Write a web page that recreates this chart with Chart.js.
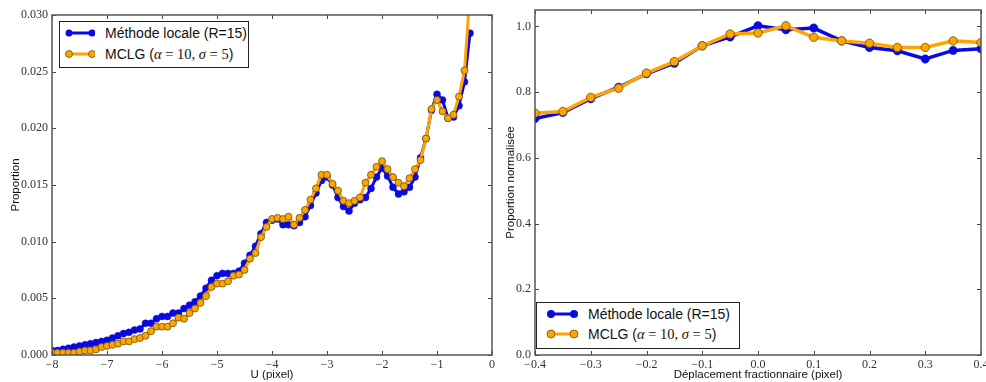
<!DOCTYPE html>
<html>
<head>
<meta charset="utf-8">
<script src="https://cdn.jsdelivr.net/npm/chart.js@4/dist/chart.umd.min.js"></script>
<style>
  body { margin: 0; background: #fff; width: 986px; height: 382px; position: relative; overflow: hidden;
         font-family: "Liberation Sans", Arial, sans-serif; }
  canvas { position: absolute; top: 0; }
  #leftChart { left: 0; }
  #rightChart { left: 500px; }
  .legend { position: absolute; border: 1.5px solid #222; background: #fff; box-sizing: border-box; }
  .legend .row { position: absolute; left: 0; height: 20px; display: flex; align-items: center;
                 font-size: 14px; color: #111; white-space: nowrap; }
  .legend svg { display: block; }
  .math { font-family: "Liberation Serif", "DejaVu Serif", serif; font-size: 14.5px; }
  .math i { font-style: italic; }
</style>
</head>
<body>
<canvas id="leftChart" width="500" height="382"></canvas>
<canvas id="rightChart" width="486" height="382"></canvas>

<div class="legend" style="left:59px; top:21px; width:190px; height:47px;">
  <div class="row" style="top:1px; left:5px;">
    <svg width="30" height="12"><line x1="4" y1="6" x2="27" y2="6" stroke="#0a0ae0" stroke-width="3"/><circle cx="4" cy="6" r="3.5" fill="#0a0ae0"/><circle cx="27" cy="6" r="3.5" fill="#0a0ae0"/></svg>
    <span style="margin-left:10px">Méthode locale (R=15)</span>
  </div>
  <div class="row" style="top:22px; left:5px;">
    <svg width="30" height="12"><line x1="4" y1="6" x2="27" y2="6" stroke="#ffa500" stroke-width="3"/><circle cx="4" cy="6" r="3.5" fill="#ffa500" stroke="#6b5010" stroke-width="0.8"/><circle cx="27" cy="6" r="3.5" fill="#ffa500" stroke="#6b5010" stroke-width="0.8"/></svg>
    <span style="margin-left:10px">MCLG (<span class="math"><i>α</i> = 10, <i>σ</i> = 5</span>)</span>
  </div>
</div>

<div class="legend" style="left:536px; top:302px; width:204px; height:47px;">
  <div class="row" style="top:1px; left:9px;">
    <svg width="34" height="12"><line x1="5" y1="6" x2="28" y2="6" stroke="#0a0ae0" stroke-width="3"/><circle cx="5" cy="6" r="4" fill="#0a0ae0"/><circle cx="28" cy="6" r="4" fill="#0a0ae0"/></svg>
    <span style="margin-left:8px">Méthode locale (R=15)</span>
  </div>
  <div class="row" style="top:21px; left:9px;">
    <svg width="34" height="12"><line x1="5" y1="6" x2="28" y2="6" stroke="#ffa500" stroke-width="3"/><circle cx="5" cy="6" r="4" fill="#ffa500" stroke="#6b5010" stroke-width="0.8"/><circle cx="28" cy="6" r="4" fill="#ffa500" stroke="#6b5010" stroke-width="0.8"/></svg>
    <span style="margin-left:8px">MCLG (<span class="math"><i>α</i> = 10, <i>σ</i> = 5</span>)</span>
  </div>
</div>

<script>
// Left panel: proportion vs U (pixel)
const uValues = [
  -8.0, -7.9, -7.8, -7.7, -7.6, -7.5, -7.4, -7.3, -7.2, -7.1,
  -7.0, -6.9, -6.8, -6.7, -6.6, -6.5, -6.4, -6.3, -6.2, -6.1,
  -6.0, -5.9, -5.8, -5.7, -5.6, -5.5, -5.4, -5.3, -5.2, -5.1,
  -5.0, -4.9, -4.8, -4.7, -4.6, -4.5, -4.4, -4.3, -4.2, -4.1,
  -4.0, -3.9, -3.8, -3.7, -3.6, -3.5, -3.4, -3.3, -3.2, -3.1,
  -3.0, -2.9, -2.8, -2.7, -2.6, -2.5, -2.4, -2.3, -2.2, -2.1,
  -2.0, -1.9, -1.8, -1.7, -1.6, -1.5, -1.4, -1.3, -1.2, -1.1,
  -1.0, -0.9, -0.8, -0.7, -0.6, -0.5, -0.4
];
const localProportion = [
  0.0004, 0.0004, 0.0005, 0.0006, 0.0007, 0.0008, 0.0009, 0.0010, 0.0011, 0.0012,
  0.0013, 0.0015, 0.0017, 0.0019, 0.0020, 0.0022, 0.0023, 0.0028, 0.0028, 0.0032,
  0.0034, 0.0034, 0.0037, 0.0037, 0.0041, 0.0044, 0.0047, 0.0052, 0.0059, 0.0066,
  0.0070, 0.0072, 0.0072, 0.0072, 0.0074, 0.0081, 0.0088, 0.0096, 0.0107, 0.0117,
  0.0119, 0.0120, 0.0115, 0.0115, 0.0114, 0.0117, 0.0122, 0.0132, 0.0143, 0.0154,
  0.0157, 0.0150, 0.0139, 0.0131, 0.0127, 0.0134, 0.0137, 0.0139, 0.0147, 0.0157,
  0.0165, 0.0158, 0.0148, 0.0142, 0.0144, 0.0148, 0.0157, 0.0174, 0.0191, 0.0216,
  0.0230, 0.0225, 0.0209, 0.0210, 0.0220, 0.0241, 0.0284
];
const mclgProportion = [
  0.0002, 0.0002, 0.0002, 0.0002, 0.0002, 0.0003, 0.0004, 0.0004, 0.0005, 0.0007,
  0.0008, 0.0009, 0.0010, 0.0012, 0.0012, 0.0014, 0.0015, 0.0017, 0.0021, 0.0025,
  0.0025, 0.0025, 0.0028, 0.0033, 0.0032, 0.0037, 0.0041, 0.0046, 0.0052, 0.0060,
  0.0063, 0.0063, 0.0065, 0.0070, 0.0071, 0.0075, 0.0085, 0.0090, 0.0104, 0.0113,
  0.0120, 0.0121, 0.0120, 0.0122, 0.0115, 0.0121, 0.0128, 0.0137, 0.0147, 0.0159,
  0.0159, 0.0151, 0.0145, 0.0136, 0.0134, 0.0136, 0.0139, 0.0152, 0.0159, 0.0166,
  0.0171, 0.0164, 0.0157, 0.0152, 0.0149, 0.0156, 0.0164, 0.0172, 0.0191, 0.0217,
  0.0225, 0.0215, 0.0209, 0.0212, 0.0228, 0.0251, 0.0320
];

// Right panel: normalised proportion vs fractional shift
const shiftValues = [-0.4, -0.35, -0.3, -0.25, -0.2, -0.15, -0.1, -0.05, 0.0, 0.05, 0.1, 0.15, 0.2, 0.25, 0.3, 0.35, 0.4];
const localNormalised = [0.720, 0.738, 0.780, 0.815, 0.856, 0.888, 0.941, 0.968, 1.002, 0.990, 0.995, 0.956, 0.936, 0.926, 0.901, 0.927, 0.932];
const mclgNormalised  = [0.736, 0.741, 0.784, 0.812, 0.858, 0.893, 0.941, 0.977, 0.980, 1.002, 0.967, 0.956, 0.949, 0.936, 0.936, 0.956, 0.951];

const BLUE = '#0a0ae0';
const ORANGE = '#ffa500';
const TICK_FONT = { family: '"Liberation Serif", "DejaVu Serif", serif', size: 12 };
const TITLE_FONT = { family: '"Liberation Sans", Arial, sans-serif', size: 11.5 };

function fmt(v, digits) {
  const s = Math.abs(v).toFixed(digits);
  return v < -1e-9 ? '\u2212' + s : s;
}

function toPoints(xs, ys) {
  return xs.map((x, i) => ({ x: x, y: ys[i] }));
}

// draws the box round the plot and inward ticks on all four sides
const framePlugin = {
  id: 'frame',
  afterDatasetsDraw(chart) {
    const { ctx, chartArea: a, scales } = chart;
    ctx.save();
    ctx.strokeStyle = '#444';
    ctx.lineWidth = 1;
    ctx.beginPath();
    scales.x.ticks.forEach(t => {
      const px = Math.round(scales.x.getPixelForValue(t.value)) + 0.5;
      ctx.moveTo(px, a.bottom); ctx.lineTo(px, a.bottom - 4);
      ctx.moveTo(px, a.top); ctx.lineTo(px, a.top + 4);
    });
    scales.y.ticks.forEach(t => {
      const py = Math.round(scales.y.getPixelForValue(t.value)) + 0.5;
      ctx.moveTo(a.left, py); ctx.lineTo(a.left + 4, py);
      ctx.moveTo(a.right, py); ctx.lineTo(a.right - 4, py);
    });
    ctx.stroke();
    ctx.lineWidth = 1.5;
    ctx.strokeStyle = '#555';
    ctx.strokeRect(a.left, a.top, a.right - a.left, a.bottom - a.top);
    ctx.restore();
  }
};

function makeChart(id, cfg) {
  return new Chart(document.getElementById(id), {
    type: 'line',
    data: {
      datasets: [
        {
          data: toPoints(cfg.xs, cfg.blue),
          borderColor: BLUE, backgroundColor: BLUE,
          pointBackgroundColor: BLUE, pointBorderColor: BLUE,
          borderWidth: cfg.lineWidth, pointRadius: cfg.radius, pointBorderWidth: 0.5,
          tension: 0, clip: 0, order: 2
        },
        {
          data: toPoints(cfg.xs, cfg.orange),
          borderColor: ORANGE, backgroundColor: ORANGE,
          pointBackgroundColor: ORANGE, pointBorderColor: '#6b5010',
          borderWidth: cfg.lineWidth, pointRadius: cfg.radius, pointBorderWidth: 0.8,
          tension: 0, clip: 0, order: 1
        }
      ]
    },
    options: {
      responsive: false,
      animation: false,
      events: [],
      layout: { padding: cfg.padding },
      plugins: { legend: { display: false }, tooltip: { enabled: false } },
      scales: {
        x: {
          type: 'linear',
          min: cfg.xMin, max: cfg.xMax,
          grid: { display: false, drawTicks: false },
          border: { display: false },
          ticks: { stepSize: cfg.xStep, padding: 3, color: '#333', font: TICK_FONT,
                   maxRotation: 0, callback: v => fmt(v, cfg.xDigits) },
          title: { display: true, text: cfg.xTitle, color: '#111', font: TITLE_FONT, padding: { top: 0, bottom: 0 } },
          afterFit: s => { s.height = cfg.xHeight; s.paddingLeft = 0; s.paddingRight = 0; }
        },
        y: {
          type: 'linear',
          min: 0, max: cfg.yMax,
          grid: { display: false, drawTicks: false },
          border: { display: false },
          ticks: { stepSize: cfg.yStep, padding: 4, color: '#333', font: TICK_FONT,
                   includeBounds: false, callback: v => fmt(v, cfg.yDigits) },
          title: { display: true, text: cfg.yTitle, color: '#111', font: TITLE_FONT,
                   padding: { top: cfg.yTitleOffset, bottom: 0 } },
          afterFit: s => { s.width = cfg.yWidth; s.paddingTop = 0; s.paddingBottom = 0; }
        }
      }
    },
    plugins: [framePlugin]
  });
}

makeChart('leftChart', {
  xs: uValues, blue: localProportion, orange: mclgProportion,
  xMin: -8, xMax: 0, xStep: 1, xDigits: 0,
  yMax: 0.03, yStep: 0.005, yDigits: 3,
  xTitle: 'U (pixel)', yTitle: 'Proportion', yTitleOffset: 9,
  lineWidth: 3, radius: 3.5,
  xHeight: 27, yWidth: 52,
  padding: { top: 15, right: 8, left: 0, bottom: 0 }
});

makeChart('rightChart', {
  xs: shiftValues, blue: localNormalised, orange: mclgNormalised,
  xMin: -0.4, xMax: 0.4, xStep: 0.1, xDigits: 1,
  yMax: 1.05, yStep: 0.2, yDigits: 1,
  xTitle: 'Déplacement fractionnaire (pixel)', yTitle: 'Proportion normalisée', yTitleOffset: 4,
  lineWidth: 3.5, radius: 4.2,
  xHeight: 27, yWidth: 35,
  padding: { top: 10, right: 5, left: 0, bottom: 0 }
});
</script>
</body>
</html>
